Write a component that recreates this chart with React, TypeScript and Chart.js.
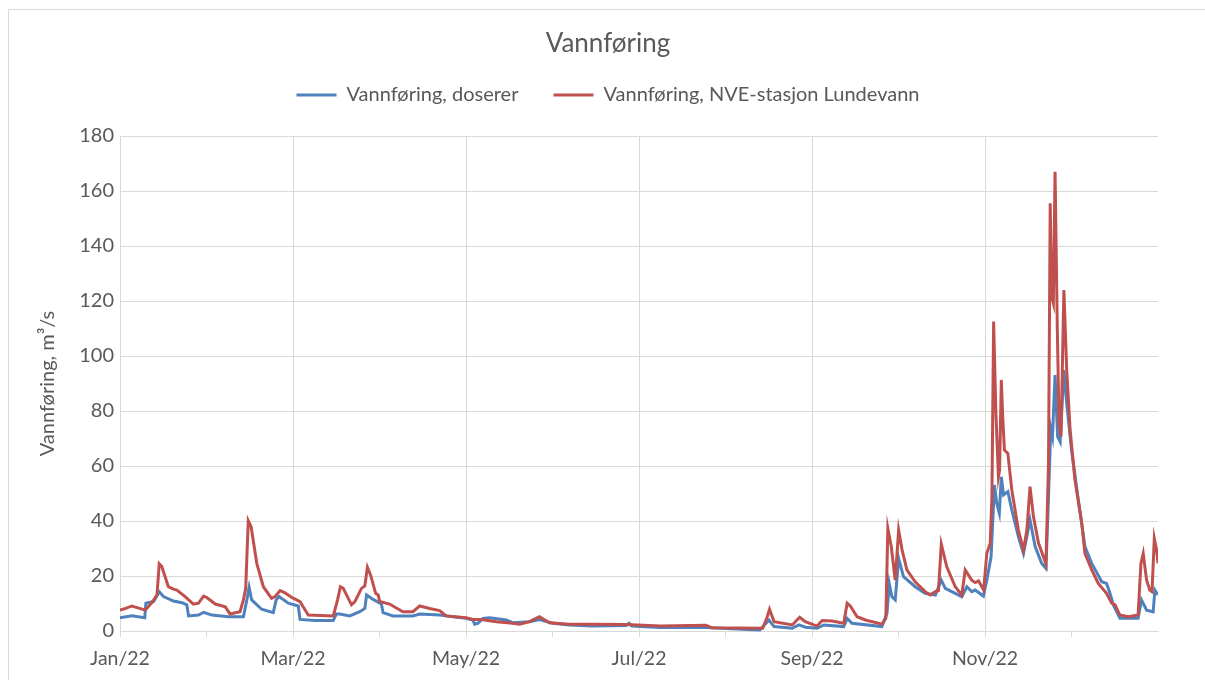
import React, { useEffect, useRef } from 'react';
import { Chart, registerables } from 'chart.js';

Chart.register(...registerables);

// ---- Text ----
const chartTitle = 'Vannføring';
const seriesNames = ['Vannføring, doserer', 'Vannføring, NVE-stasjon Lundevann'];
const yAxisTitle = 'Vannføring, m³/s';
const xTickLabels = ['Jan/22', '', 'Mar/22', '', 'May/22', '', 'Jul/22', '', 'Sep/22', '', 'Nov/22', ''];

// ---- Axis ranges ----
const xDaysInYear = 365;
const yMin = 0;
const yMax = 180;
const yStep = 20;

// ---- Series: day of year (0 = 1 Jan 2022) and flow in m³/s ----
const doserDays = [
  0, 4.2, 8.7, 9.1, 11.8, 13.8, 15.3, 18.8, 21.8, 23.5, 24.1, 27.6, 29.4, 32.3, 38.1, 43.4, 44.6, 45.4, 46.3, 49.8,
  53.9, 54.9, 55.9, 59.2, 62.7, 63.3, 68.5, 75, 76.1, 77.3, 80.8, 84.3, 86.1, 86.7, 89, 91.9, 92.5, 96, 103, 105.4,
  112.4, 117.1, 121.7, 124.1, 124.7, 125.8, 127.6, 129.9, 135.8, 138.1, 144, 147.5, 152.2, 158, 166, 178, 179, 180, 190, 206,
  215, 225, 228.2, 230, 236.4, 238.7, 241, 245.1, 247.5, 254.5, 255.7, 257.4, 267.9, 269.7, 270.5, 271.4, 272.6, 273.8, 275.5, 279.6,
  283.1, 286.7, 288.8, 290.2, 296, 297.8, 299.5, 300.7, 303.6, 304.8, 306.3, 307.5, 308.3, 309.2, 309.9, 310.7, 312.2, 313.6, 315.9, 317.7,
  320, 321.8, 324.1, 325.6, 326.5, 327.3, 327.9, 328.8, 329.7, 330.6, 331.9, 332.9, 334.6, 337, 339.3, 341.7, 345.2, 346.9, 348.1, 349.3,
  351.6, 358, 359.2, 361, 363.3, 363.9, 365,
];
const doserValues = [
  4.8, 5.5, 4.8, 10.1, 10.7, 14.3, 12.5, 10.9, 10.3, 9.5, 5.5, 5.8, 6.8, 5.8, 5.2, 5.2, 11.3, 15.9, 11.3, 7.9,
  6.7, 11.3, 12.5, 10.1, 9.1, 4.2, 3.8, 3.8, 6.2, 6.2, 5.5, 7, 8.2, 13.1, 11.5, 9.8, 6.7, 5.5, 5.5, 6.2,
  5.8, 5.2, 4.6, 4, 2.5, 2.8, 4.6, 4.8, 4, 3, 3.4, 4.2, 2.8, 2.2, 1.8, 2.0, 2.8, 1.8, 1.3, 1.3,
  0.8, 0.4, 4, 1.6, 1, 2.2, 1.4, 1, 2.2, 1.6, 4.6, 2.8, 1.6, 6.4, 17.3, 12.5, 11.3, 26.4, 19.8, 16.1,
  13.7, 13.1, 18.5, 15.5, 12.5, 16.1, 14.3, 14.9, 12.7, 18.5, 27, 53.1, 46.4, 42.8, 56.1, 49.5, 50.7, 44, 34.3, 28.2,
  40.4, 30.7, 24.6, 22.8, 48.8, 73.7, 70.7, 93.1, 70.7, 68.8, 94.9, 82.8, 65.8, 47.6, 30.7, 24.6, 17.9, 17.3, 13.7, 9.5,
  4.6, 4.6, 11.3, 7.6, 7, 14.9, 13.1,
];

const nveDays = [
  0, 2, 4.2, 6, 8.9, 11.2, 13, 13.8, 14.7, 17, 18.8, 20, 22.9, 25.8, 27.6, 29.4, 30.5, 33.5, 37, 38.7,
  42.2, 43.4, 44.2, 45.1, 46.1, 48.1, 50.4, 53.3, 54.5, 56.3, 58, 60.4, 63.3, 64.4, 66.2, 75, 76.5, 77.5, 78.5, 81.4,
  82.6, 84.9, 86.1, 87, 88.1, 89.9, 90.8, 91.3, 94.8, 99.5, 103, 105.4, 108.9, 112.4, 114.7, 121.7, 124.1, 127, 132.3, 138.1,
  140.5, 144, 147.5, 151, 158, 166, 178, 190, 206, 208, 226, 227.6, 228.4, 230, 236.4, 239, 241, 245.1, 246.9, 250.4,
  254.5, 255.7, 256.8, 259.2, 262.1, 267.9, 269.3, 270, 271.2, 272.6, 273.8, 275, 276.7, 279.6, 283.1, 284.9, 286.7, 287.8, 288.8, 290.7,
  293.7, 296, 297.2, 299.5, 300.7, 301.9, 303.7, 304.8, 306, 306.6, 307.2, 308, 308.9, 309.3, 309.9, 310.4, 311, 312.2, 313.6, 315.9,
  317.7, 318.9, 320, 321.2, 323, 324.7, 325.6, 326.5, 327.1, 327.6, 328.2, 328.8, 329.6, 330.2, 330.9, 331.9, 332.9, 334.1, 335.8, 338.2,
  339.3, 341.7, 344, 346.9, 348.7, 349.9, 351.6, 354.5, 358, 359, 359.8, 361, 362.1, 362.9, 363.7, 364.5, 365,
];
const nveValues = [
  7.6, 8.2, 9.1, 8.5, 7.6, 10.3, 13.1, 24.4, 23.4, 16.1, 15.2, 14.9, 12.5, 9.8, 10.1, 12.7, 12.2, 9.8, 8.8, 6.2,
  7, 11.3, 15.5, 40.1, 37.9, 24.6, 16.1, 11.9, 12.5, 14.7, 13.9, 12.2, 10.7, 8.8, 5.8, 5.5, 11.3, 16.1, 15.5, 9.5,
  10.7, 15.5, 16.4, 23.2, 20.4, 13.7, 13.1, 10.7, 9.8, 7, 7, 9.1, 8.2, 7.4, 5.5, 4.8, 4.2, 4.2, 3.4, 2.8,
  2.5, 3.4, 5.2, 3, 2.5, 2.5, 2.4, 1.8, 2.1, 1.2, 1, 5.2, 7.9, 3.4, 2.2, 5, 3.4, 1.8, 3.8, 3.6,
  2.8, 10.1, 9.1, 5.2, 4, 2.5, 4.6, 37.3, 30.7, 18.5, 36.7, 29.5, 22.2, 17.9, 14.3, 13.1, 14.3, 14.7, 31.6, 23.4,
  16.1, 13.1, 22.2, 18.5, 17.6, 18.2, 14.9, 28.2, 31.9, 48.8, 112.5, 79.2, 56.1, 58.5, 91.3, 77.9, 65.8, 64.6, 51.3, 36.7,
  29.5, 36.7, 52.5, 41.6, 31.9, 27, 24.5, 61, 155.5, 121.6, 119.2, 167, 109.5, 75.5, 70.7, 124, 94.9, 73.1, 54.9, 39.2,
  28.2, 22.2, 17.3, 13.7, 10.1, 9.5, 5.8, 5.2, 5.8, 24.6, 28.2, 18.5, 14.9, 14.3, 33.7, 29.5, 24.6,
];

const seriesColors = ['#4F81BD', '#C0504D'];
const textColor = '#595959';
const gridColor = '#d9d9d9';
const fontFamily = 'Lato, "Open Sans", sans-serif';

export default function App() {
  const canvasRef = useRef<HTMLCanvasElement | null>(null);

  useEffect(() => {
    const canvas = canvasRef.current;
    if (!canvas) return;

    const toPoints = (days: number[], values: number[]) => days.map((d, i) => ({ x: d, y: values[i] }));

    const chart = new Chart(canvas, {
      type: 'line',
      data: {
        datasets: [
          {
            label: seriesNames[0],
            data: toPoints(doserDays, doserValues),
            borderColor: seriesColors[0],
            backgroundColor: seriesColors[0],
            borderWidth: 3,
            pointRadius: 0,
            tension: 0,
            fill: false,
            order: 2,
          },
          {
            label: seriesNames[1],
            data: toPoints(nveDays, nveValues),
            borderColor: seriesColors[1],
            backgroundColor: seriesColors[1],
            borderWidth: 3,
            pointRadius: 0,
            tension: 0,
            fill: false,
            order: 1,
          },
        ],
      },
      options: {
        responsive: false,
        animation: false,
        events: [],
        layout: { padding: { left: 36, right: 25, top: 0, bottom: 0 } },
        plugins: {
          tooltip: { enabled: false },
          title: {
            display: true,
            text: chartTitle,
            color: textColor,
            font: { family: fontFamily, size: 26, weight: 'normal' },
            padding: { top: 28.4, bottom: -9.6 },
          },
          legend: {
            display: true,
            position: 'top',
            labels: {
              color: textColor,
              font: { family: fontFamily, size: 20 },
              boxWidth: 40,
              boxHeight: 3,
              padding: 35,
              generateLabels: (c: any) =>
                c.data.datasets.map((ds: any, i: number) => ({
                  text: ds.label,
                  fillStyle: ds.borderColor,
                  strokeStyle: ds.borderColor,
                  lineWidth: 0,
                  hidden: false,
                  datasetIndex: i,
                  fontColor: textColor,
                })),
            },
          },
        },
        scales: {
          x: {
            type: 'linear',
            position: 'bottom',
            min: 0,
            max: xDaysInYear,
            afterBuildTicks: (s: any) => {
              s.ticks = xTickLabels.map((_, i) => ({ value: (i * xDaysInYear) / xTickLabels.length }));
            },
            ticks: {
              autoSkip: false,
              maxRotation: 0,
              color: textColor,
              font: { family: fontFamily, size: 19.5 },
              padding: 10,
              callback: (_v: any, i: number) => xTickLabels[i],
            },
            grid: {
              color: (ctx: any) => (ctx.index % 2 === 0 ? gridColor : 'rgba(0,0,0,0)'),
              tickColor: gridColor,
              tickLength: 6,
              lineWidth: 1,
            },
            border: { color: gridColor, width: 1 },
            afterFit: (s: any) => {
              s.height = 49;
            },
          },
          xSpacer: {
            type: 'linear',
            axis: 'x',
            position: 'top',
            display: true,
            grid: { display: false, drawTicks: false },
            border: { display: false },
            ticks: { display: false },
            afterFit: (s: any) => {
              s.height = 21;
            },
          },
          ySpacer: {
            type: 'linear',
            axis: 'y',
            position: 'right',
            display: true,
            grid: { display: false, drawTicks: false },
            border: { display: false },
            ticks: { display: false },
            afterFit: (s: any) => {
              s.width = 22;
            },
          },
          y: {
            type: 'linear',
            position: 'left',
            min: yMin,
            max: yMax,
            ticks: {
              stepSize: yStep,
              color: textColor,
              font: { family: fontFamily, size: 20 },
              padding: 6,
            },
            grid: { color: gridColor, drawTicks: false, lineWidth: 1 },
            border: { color: gridColor, width: 1 },
            title: {
              display: true,
              text: yAxisTitle,
              color: textColor,
              font: { family: fontFamily, size: 20 },
              padding: 0,
            },
            afterFit: (s: any) => {
              s.width = 84;
            },
          },
        },
      },
    } as any);

    return () => chart.destroy();
  }, []);

  return (
    <div style={{ position: 'absolute', left: 0, top: 0, width: 1205, height: 680, overflow: 'hidden', background: '#fff' }}>
      <div
        style={{
          position: 'absolute',
          left: 8,
          top: 9,
          width: 1220,
          height: 720,
          border: '1px solid #d9d9d9',
          boxSizing: 'border-box',
        }}
      />
      <canvas ref={canvasRef} width={1205} height={680} style={{ position: 'absolute', left: 0, top: 0 }} />
    </div>
  );
}
